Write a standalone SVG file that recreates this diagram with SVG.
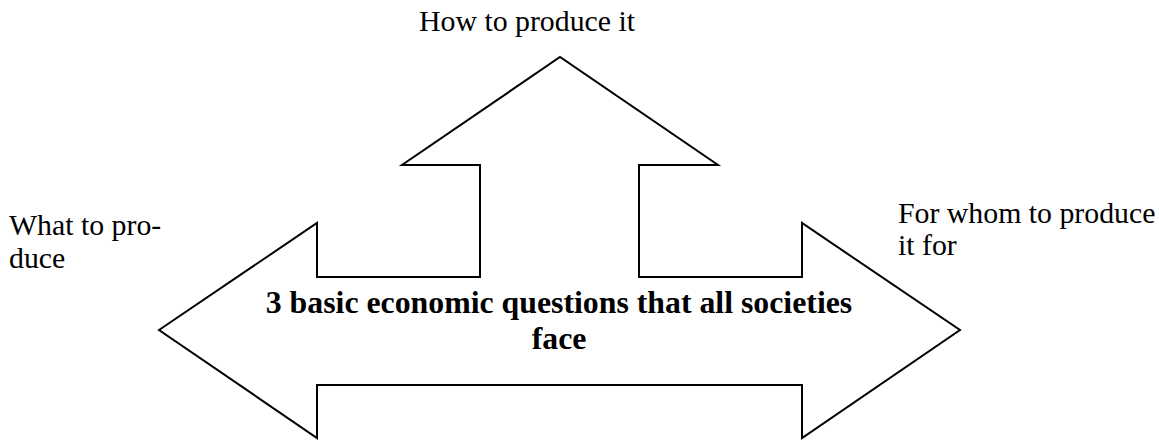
<svg xmlns="http://www.w3.org/2000/svg" width="1159" height="440" viewBox="0 0 1159 440">
<style>
.shape{fill:#fff;stroke:#000;stroke-width:2;stroke-linejoin:miter}
.lbl{font-family:"Liberation Serif","Times New Roman",serif;font-size:29.8px;fill:#000}
.ttl{font-family:"Liberation Serif","Times New Roman",serif;font-size:31.8px;font-weight:bold;fill:#000}
</style>
<rect width="1159" height="440" fill="#fff"/>
<g id="arrow">
<polygon class="shape" points="159,330 317,223 317,277 480,277 480,165 402,165 560,57 718,165 639,165 639,277 802,277 802,223 960,330 802,438 802,385 317,385 317,438"/>
<text class="ttl" x="559" y="313" text-anchor="middle">3 basic economic questions that all societies</text>
<text class="ttl" x="559" y="349" text-anchor="middle">face</text>
</g>
<g id="how">
<text class="lbl" x="527" y="31" text-anchor="middle">How to produce it</text>
</g>
<g id="what">
<text class="lbl" x="9" y="235">What to pro-</text>
<text class="lbl" x="9" y="268">duce</text>
</g>
<g id="whom">
<text class="lbl" x="898" y="223">For whom to produce</text>
<text class="lbl" x="898" y="255">it for</text>
</g>
<g id="connectors"></g>
</svg>
